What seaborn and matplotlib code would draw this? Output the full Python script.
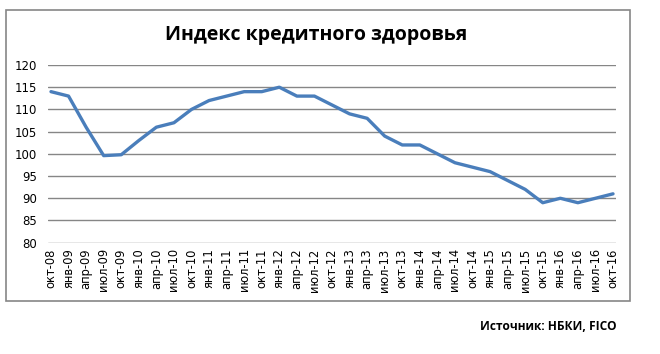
import matplotlib
matplotlib.use("Agg")
import matplotlib.pyplot as plt
import seaborn as sns
import pandas as pd
from matplotlib.patches import Rectangle

labels = ["окт-08",
          "янв-09", "апр-09", "июл-09", "окт-09",
          "янв-10", "апр-10", "июл-10", "окт-10",
          "янв-11", "апр-11", "июл-11", "окт-11",
          "янв-12", "апр-12", "июл-12", "окт-12",
          "янв-13", "апр-13", "июл-13", "окт-13",
          "янв-14", "апр-14", "июл-14", "окт-14",
          "янв-15", "апр-15", "июл-15", "окт-15",
          "янв-16", "апр-16", "июл-16", "окт-16"]
values = [114, 113, 106, 99.6, 99.8, 103, 106, 107, 110, 112, 113, 114, 114,
          115, 113, 113, 111, 109, 108, 104, 102, 102, 100, 98, 97, 96, 94,
          92, 89, 90, 89, 90, 91]
yticks = [80, 85, 90, 95, 100, 105, 110, 115, 120]

sns.set_theme(style="white")
plt.rcParams["font.family"] = ["DejaVu Sans"]
plt.rcParams["text.color"] = "black"
plt.rcParams["xtick.color"] = "black"
plt.rcParams["ytick.color"] = "black"

fig = plt.figure(figsize=(6.6, 3.54), dpi=100)
fig.patches.append(Rectangle((6.5 / 660, 1 - 301 / 354), 623.5 / 660, 291 / 354,
                             transform=fig.transFigure, fill=False,
                             edgecolor="#868686", linewidth=1.2))

ax = fig.add_axes([48 / 660, 1 - 242.7 / 354, 568 / 660, 177.7 / 354])
df = pd.DataFrame({"x": range(len(labels)), "v": values})
sns.lineplot(data=df, x="x", y="v", ax=ax, color="#4a7ebb", linewidth=2.4,
             solid_joinstyle="round", solid_capstyle="round", zorder=3)

ax.set_ylim(80, 120)
ax.set_xlim(-0.17, len(labels) - 1 + 0.17)
ax.set_yticks(yticks)
ax.set_yticklabels([str(t) for t in yticks], fontsize=8.5, color="black")
ax.set_xticks(range(len(labels)))
ax.set_xticklabels(labels, rotation=90, fontsize=8.3, color="black")
ax.tick_params(axis="both", length=0, pad=4)
ax.tick_params(axis="y", pad=8)
ax.set_xlabel("")
ax.set_ylabel("")
for s in ax.spines.values():
    s.set_visible(False)
ax.grid(False)
for t in yticks:
    ax.axhline(t, color="#868686", linewidth=1.0, zorder=1)

fig.text(316 / 660, 1 - 35 / 354, "Индекс кредитного здоровья", ha="center",
         va="center", fontsize=14, fontweight="bold", family="Open Sans",
         color="black")
fig.text(617 / 660, 1 - 327 / 354, "Источник: НБКИ, FICO", ha="right",
         va="center", fontsize=8.6, fontweight="bold", family="Open Sans",
         color="black")

fig.savefig("out.png", dpi=100, facecolor="white")
